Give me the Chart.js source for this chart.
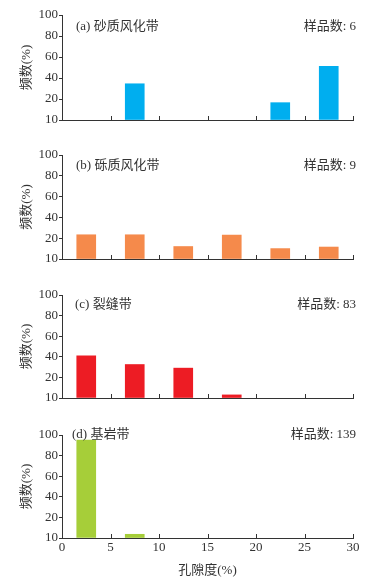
<!DOCTYPE html>
<html>
<head>
<meta charset="utf-8">
<script src="https://cdn.jsdelivr.net/npm/chart.js@4.4.0/dist/chart.umd.min.js"></script>
<style>
  html, body { margin: 0; padding: 0; background: #fff; }
  #wrap { position: relative; width: 377px; height: 583px; }
  .panel { position: absolute; left: 0; width: 377px; }
</style>
</head>
<body>
<div id="wrap">
  <div class="panel" style="top:0;height:140px"><canvas id="c0"></canvas></div>
  <div class="panel" style="top:140px;height:140px"><canvas id="c1"></canvas></div>
  <div class="panel" style="top:280px;height:140px"><canvas id="c2"></canvas></div>
  <div class="panel" style="top:420px;height:163px"><canvas id="c3"></canvas></div>
</div>
<script>
// ---- data ----
const binCenters = [2.5, 7.5, 12.5, 17.5, 22.5, 27.5];   // 孔隙度 bins (%)
const sandZone    = [0, 34.5, 0, 0, 16.5, 51];            // (a) 砂质风化带
const gravelZone  = [23.3, 23.3, 12, 23, 10, 11.5];       // (b) 砾质风化带
const fissureZone = [41, 32.5, 29, 3, 0, 0];              // (c) 裂缝带
const bedrockZone = [95, 3.6, 0, 0, 0, 0];                // (d) 基岩带

const panelNames   = ['(a) 砂质风化带', '(b) 砾质风化带', '(c) 裂缝带', '(d) 基岩带'];
const sampleCounts = [6, 9, 83, 139];
const yTickLabels  = ['10', '20', '40', '60', '80', '100'];
const xTickValues  = [0, 5, 10, 15, 20, 25, 30];

const COLORS = ['#00aeef', '#f58a4b', '#ed1c24', '#a6ce39'];
const SERIES = [sandZone, gravelZone, fissureZone, bedrockZone];

const FONT = "'Liberation Serif', 'Noto Sans CJK SC', serif";
const INK = '#333';

// per-panel text placement (name x offset, text dy from top) and x-axis box heights
const NAME_DX = [14, 14, 13, 10];
const TEXT_DY = [12, 11, 10, 0];
const X_HEIGHT = [20, 21, 22, 45];

// draws panel caption / sample count and inward x ticks
const panelDecor = {
  id: 'panelDecor',
  afterDraw(chart, args, opts) {
    const { ctx, chartArea } = chart;
    const xs = chart.scales.x;
    ctx.save();
    ctx.strokeStyle = INK;
    ctx.lineWidth = 1;
    xs.ticks.forEach(t => {
      if (t.value === 0) return;
      const px = Math.round(xs.getPixelForValue(t.value)) + 0.5;
      ctx.beginPath();
      ctx.moveTo(px, chartArea.bottom);
      ctx.lineTo(px, chartArea.bottom - 4);
      ctx.stroke();
    });
    ctx.fillStyle = INK;
    ctx.font = '13px ' + FONT;
    ctx.textBaseline = 'middle';
    ctx.textAlign = 'left';
    ctx.fillText(opts.name, chartArea.left + opts.nameDx, chartArea.top + opts.dy);
    ctx.textAlign = 'right';
    ctx.fillText('样品数: ' + opts.count, chartArea.right + 3, chartArea.top + opts.dy);
    ctx.restore();
  }
};

function makePanel(i) {
  const last = i === 3;
  new Chart(document.getElementById('c' + i), {
    type: 'bar',
    data: {
      datasets: [{
        // empty bins are left out so no hairline bar is drawn
        data: binCenters.map((x, k) => ({ x, y: SERIES[i][k] > 0 ? SERIES[i][k] : null })),
        backgroundColor: COLORS[i],
        borderWidth: 0,
        barThickness: 19
      }]
    },
    options: {
      responsive: true,
      maintainAspectRatio: false,
      animation: false,
      layout: { padding: { top: 15, right: 24, bottom: 0, left: 0 } },
      plugins: {
        legend: { display: false },
        tooltip: { enabled: false },
        panelDecor: { name: panelNames[i], count: sampleCounts[i], nameDx: NAME_DX[i], dy: TEXT_DY[i] }
      },
      scales: {
        x: {
          type: 'linear',
          min: 0, max: 30,
          offset: false,
          afterBuildTicks: s => { s.ticks = xTickValues.map(v => ({ value: v })); },
          afterFit: s => { s.height = X_HEIGHT[i]; },
          grid: { display: false, drawTicks: false },
          border: { display: true, color: INK, width: 1 },
          ticks: {
            display: last,
            padding: 2,
            color: INK,
            font: { family: FONT, size: 13 },
            maxRotation: 0
          },
          title: {
            display: last,
            text: '孔隙度(%)',
            color: INK,
            font: { family: FONT, size: 13 },
            padding: { top: 0, bottom: 5 }
          }
        },
        y: {
          min: 0, max: 100,
          afterBuildTicks: s => { s.ticks = [0, 20, 40, 60, 80, 100].map(v => ({ value: v })); },
          afterFit: s => { s.width = 62; },
          grid: { display: true, drawOnChartArea: false, drawTicks: true, tickLength: 3, color: INK },
          border: { display: true, color: INK, width: 1 },
          ticks: {
            padding: 1,
            color: INK,
            font: { family: FONT, size: 13 },
            callback: (v, idx) => yTickLabels[idx]
          },
          title: {
            display: true,
            text: '频数(%)',
            color: INK,
            font: { family: FONT, size: 13 },
            padding: { top: 19, bottom: 0 }
          }
        }
      }
    },
    plugins: [panelDecor]
  });
}

[0, 1, 2, 3].forEach(makePanel);
</script>
</body>
</html>
